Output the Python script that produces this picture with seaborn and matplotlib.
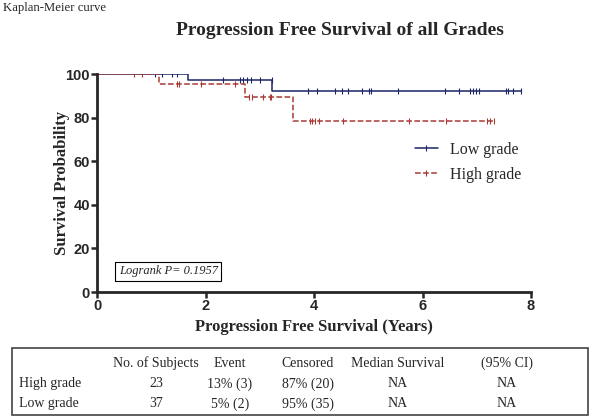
import numpy as np
import pandas as pd
import matplotlib
matplotlib.use('Agg')
import matplotlib.pyplot as plt
from matplotlib.lines import Line2D
import seaborn as sns

sns.set_style('ticks')
plt.rcParams['font.family'] = ['Liberation Serif', 'DejaVu Serif']

# step curves (years, % surviving)
low_times = [0, 1.67, 3.23, 7.82]
low_surv = [100, 97.3, 92.3, 92.3]
high_times = [0, 1.14, 2.73, 3.61, 7.32]
high_surv = [100, 95.7, 89.3, 78.6, 78.6]

# censoring times
low_cens = [1.07, 1.19, 1.38, 1.47, 2.32, 2.64, 2.70, 2.76, 2.83, 3.01, 3.22,
            3.89, 4.06, 4.38, 4.51, 4.62, 4.89, 5.01, 5.05, 5.55, 6.41, 6.68,
            6.87, 6.93, 6.99, 7.05, 7.53, 7.58, 7.66, 7.82]
high_cens = [0.675, 0.83, 1.48, 1.51, 1.91, 2.55, 2.81, 2.85, 3.06, 3.18, 3.21,
             3.92, 3.97, 4.01, 4.10, 4.53, 5.76, 6.44, 7.18, 7.24, 7.32]

# summary table
tbl_cols = ['No. of Subjects', 'Event', 'Censored', 'Median Survival', '(95% CI)']
tbl_rows = ['High grade', 'Low grade']
tbl_subjects = ['23', '37']
tbl_event = ['13% (3)', '5% (2)']
tbl_censored = ['87% (20)', '95% (35)']
tbl_median = ['NA', 'NA']
tbl_ci = ['NA', 'NA']

low_col = '#1c2566'
high_col = '#a83a36'


def surv_at(times, surv, t):
    idx = np.searchsorted(times, t, side='right') - 1
    return np.array(surv)[idx]


curve = pd.concat([
    pd.DataFrame({'t': low_times, 's': low_surv, 'g': 'Low grade'}),
    pd.DataFrame({'t': high_times, 's': high_surv, 'g': 'High grade'}),
])
cens = pd.concat([
    pd.DataFrame({'t': low_cens, 's': surv_at(low_times, low_surv, low_cens), 'g': 'Low grade'}),
    pd.DataFrame({'t': high_cens, 's': surv_at(high_times, high_surv, high_cens), 'g': 'High grade'}),
])

fig = plt.figure(figsize=(6, 4.19), dpi=100)
ax = fig.add_axes([0.1617, 0.303, 0.7233, 0.52])

pal = {'Low grade': low_col, 'High grade': high_col}
styles = {'Low grade': '-', 'High grade': '--'}
for g in ['Low grade', 'High grade']:
    d = curve[curve.g == g]
    sns.lineplot(data=d, x='t', y='s', ax=ax, color=pal[g], lw=1.1, ls=styles[g],
                 drawstyle='steps-post', estimator=None, sort=False, legend=False)
    c = cens[cens.g == g]
    sns.scatterplot(data=c, x='t', y='s', ax=ax, color=pal[g], marker='|',
                    s=22, linewidth=0.8, legend=False)

ax.set_xlim(0, 8)
ax.set_ylim(0, 100)
ax.set_xticks([0, 2, 4, 6, 8])
ax.set_yticks([0, 20, 40, 60, 80, 100])
for lab in ax.get_xticklabels() + ax.get_yticklabels():
    lab.set_family(['Liberation Sans', 'DejaVu Sans'])
    lab.set_fontweight('bold')
    lab.set_fontsize(10.5)
ax.tick_params(width=1.8, length=4, pad=1)
for sp in ['left', 'bottom']:
    ax.spines[sp].set_linewidth(2)
sns.despine(ax=ax)

ax.set_xlabel('Progression Free Survival (Years)', fontsize=12, fontweight='bold', labelpad=4)
ax.set_ylabel('Survival Probability', fontsize=12, fontweight='bold', labelpad=-3)

handles = [Line2D([], [], color=pal[g], ls=styles[g], lw=1.1, marker='|',
                  markersize=5, markeredgewidth=0.8) for g in ['Low grade', 'High grade']]
ax.legend(handles, ['Low grade', 'High grade'], loc='upper left', numpoints=1,
          bbox_to_anchor=(0.70, 0.755), frameon=False,
          fontsize=11.5, handlelength=1.4, labelspacing=0.55)

ax.text(0.05, 0.095, 'Logrank P= 0.1957', transform=ax.transAxes, style='italic',
        fontsize=9, va='center', ha='left',
        bbox=dict(boxstyle='square,pad=0.3', fc='white', ec='black', lw=0.8))

fig.text(0.567, 0.928, 'Progression Free Survival of all Grades', ha='center',
         va='center', fontsize=14, fontweight='bold')
fig.text(0.005, 0.982, 'Kaplan-Meier curve', ha='left', va='center', fontsize=9.2)

# table
box = plt.Rectangle((0.02, 0.01), 0.96, 0.16, transform=fig.transFigure,
                    fill=False, ec='#444444', lw=1.2)
fig.add_artist(box)
col_x = [0.26, 0.383, 0.513, 0.663, 0.845]
fs = 10
for x, c in zip(col_x, tbl_cols):
    fig.text(x, 0.133, c, ha='center', va='center', fontsize=fs)
row_y = [0.084, 0.036]
for i, r in enumerate(tbl_rows):
    fig.text(0.032, row_y[i], r, ha='left', va='center', fontsize=fs)
    vals = [tbl_subjects[i], tbl_event[i], tbl_censored[i], tbl_median[i], tbl_ci[i]]
    for x, v in zip(col_x, vals):
        fig.text(x, row_y[i], v, ha='center', va='center', fontsize=fs)

fig.savefig('out.png', dpi=100)
